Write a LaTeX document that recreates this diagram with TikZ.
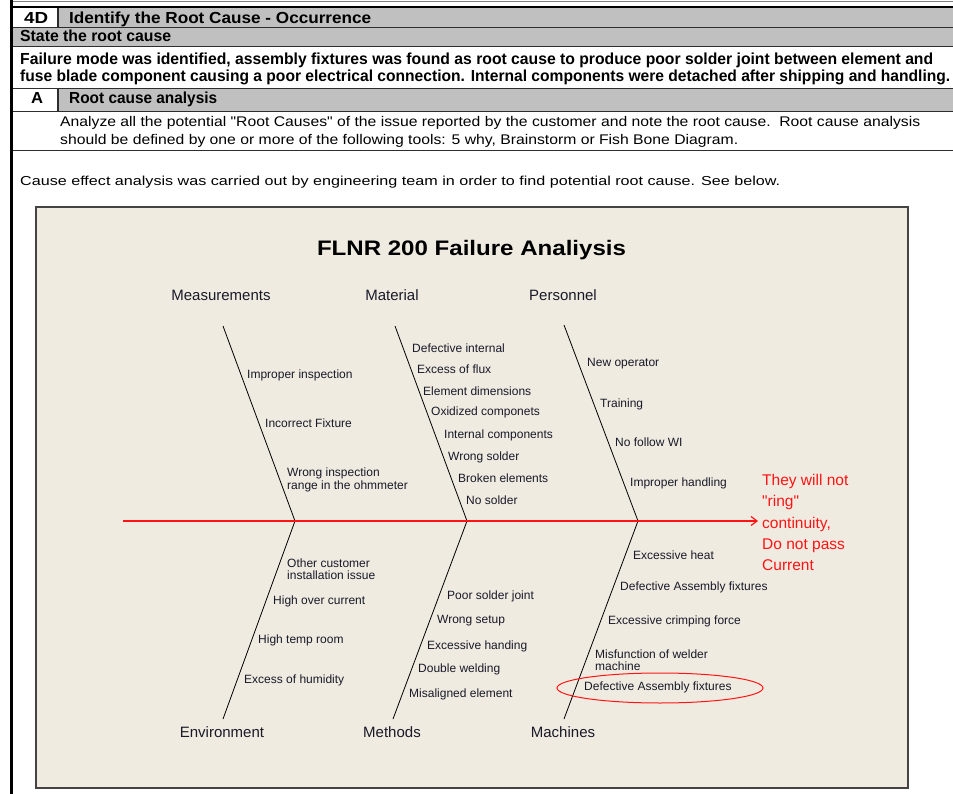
\documentclass[tikz,border=0pt]{standalone}
\usepackage{fontspec}
\usepackage{graphicx}
\setmainfont{Liberation Sans}
\usetikzlibrary{arrows.meta}
\newcommand{\fitto}[2]{\resizebox{#1}{\height}{#2}}
\definecolor{hdrgray}{RGB}{192,192,192}
\definecolor{boxbg}{RGB}{239,235,225}
\definecolor{boxline}{RGB}{68,68,68}
\definecolor{rowline}{RGB}{45,45,45}
\definecolor{labelc}{RGB}{25,25,40}
\definecolor{effred}{RGB}{255,20,20}
\tikzset{
  rowrule/.style={draw=rowline, line width=1.6pt},
  hdrtext/.style={anchor=base west, inner sep=0pt, font=\fontsize{16}{18}\selectfont\bfseries},
  bodytext/.style={anchor=base west, inner sep=0pt, font=\fontsize{14}{16}\selectfont},
  cat/.style={inner sep=0pt, font=\fontsize{15}{17}\selectfont, text=labelc},
  lbl/.style={anchor=west, inner sep=0pt, align=left, font=\fontsize{12}{12.5}\selectfont, text=labelc},
  bone/.style={draw=black, line width=0.8pt},
  spine/.style={draw=effred, line width=1.2pt, -{Straight Barb[length=6pt,width=9pt]}},
}
\begin{document}
\begin{tikzpicture}[x=1pt,y=-1pt]
\useasboundingbox (0,0) rectangle (953,794);
% ---------- header table ----------
\fill[hdrgray] (13,8) rectangle (953,46.5);
\fill[white] (13,8) rectangle (58,27.5);
\fill[hdrgray] (13,88.5) rectangle (953,111.5);
\fill[white] (13,88.5) rectangle (58,111.5);
\draw[draw=gray, line width=0.8pt] (12,1) -- (953,1);
\draw[line width=2.6pt] (12,7) -- (953,7);
\draw[line width=3.6pt] (11.5,0) -- (11.5,794);
\draw[rowrule] (13,27.5) -- (953,27.5);
\draw[rowrule] (13,46.5) -- (953,46.5);
\draw[rowrule] (13,88.5) -- (953,88.5);
\draw[rowrule] (13,111.5) -- (953,111.5);
\draw[rowrule] (13,150.5) -- (953,150.5);
\draw[rowrule] (58,8) -- (58,27.5);
\draw[rowrule] (58,88.5) -- (58,111.5);
\node[hdrtext] (h4d) at (24,23.3) {\fitto{24pt}{4D}};
\node[hdrtext] (hid) at (69,23.3) {\fitto{302pt}{Identify the Root Cause - Occurrence}};
\node[hdrtext] (hst) at (20,41.7) {\fitto{151pt}{State the root cause}};
\node[hdrtext] (hf1) at (20,64.3) {\fitto{913pt}{Failure mode was identified, assembly fixtures was found as root cause to produce poor solder joint between element and}};
\node[hdrtext] (hf2) at (20,82) {\fitto{930pt}{fuse blade component causing a poor electrical connection. Internal components were detached after shipping and handling.}};
\node[hdrtext] (ha) at (31,104) {\fitto{12pt}{A}};
\node[hdrtext] (hra) at (69,104) {\fitto{148pt}{Root cause analysis}};
\node[bodytext] (ta1) at (60,126.5) {\fitto{860pt}{Analyze all the potential \textquotedbl Root Causes\textquotedbl{} of the issue reported by the customer and note the root cause.\ \ Root cause analysis}};
\node[bodytext] (ta2) at (60,144.5) {\fitto{678pt}{should be defined by one or more of the following tools: 5 why, Brainstorm or Fish Bone Diagram.}};
\node[anchor=base west, inner sep=0pt, font=\fontsize{13}{15}\selectfont] (cause) at (20,186) {\fitto{760pt}{Cause effect analysis was carried out by engineering team in order to find potential root cause. See below.}};
% ---------- fishbone box ----------
\draw[fill=boxbg, draw=boxline, line width=1.6pt] (36,207) rectangle (908,788);
\node[anchor=base, inner sep=0pt, font=\fontsize{21}{24}\selectfont\bfseries, text=black] (title) at (471.5,256) {\fitto{309pt}{FLNR 200 Failure Analiysis}};
% categories
\node[cat] (meas) at (221,295) {Measurements};
\node[cat] (mat) at (392,295) {Material};
\node[cat] (pers) at (563,295) {Personnel};
\node[cat] (env) at (222,732) {Environment};
\node[cat] (meth) at (392,732) {Methods};
\node[cat] (mach) at (563,732) {Machines};
% bone coordinates
\coordinate (tail) at (123,521);
\coordinate (head) at (758,521);
\coordinate (j1) at (295,521);
\coordinate (j2) at (467,521);
\coordinate (j3) at (638,521);
\coordinate (t1) at (223,326);
\coordinate (t2) at (395,326);
\coordinate (t3) at (564,325);
\coordinate (b1) at (223,719);
\coordinate (b2) at (393,719);
\coordinate (b3) at (564,719);
\draw[bone] (t1) -- (j1) -- (b1);
\draw[bone] (t2) -- (j2) -- (b2);
\draw[bone] (t3) -- (j3) -- (b3);
\draw[spine] (tail) -- (head);
% effect
\node[anchor=west, inner sep=0pt, align=left, text=effred, font=\fontsize{15.5}{21.25}\selectfont] (eff) at (762,522.5) {They will not\\\textquotedbl ring\textquotedbl\\continuity,\\Do not pass\\Current};
% Measurements causes
\node[lbl] (m1) at (247,375) {Improper inspection};
\node[lbl] (m2) at (265,423) {Incorrect Fixture};
\node[lbl] (m3) at (287,480) {Wrong inspection\\range in the ohmmeter};
% Material causes
\node[lbl] (a1) at (412,348) {Defective internal};
\node[lbl] (a2) at (417,369) {Excess of flux};
\node[lbl] (a3) at (423,391) {Element dimensions};
\node[lbl] (a4) at (431,412) {Oxidized componets};
\node[lbl] (a5) at (444,435) {Internal components};
\node[lbl] (a6) at (448,457) {Wrong solder};
\node[lbl] (a7) at (458,478) {Broken elements};
\node[lbl] (a8) at (466,500) {No solder};
% Personnel causes
\node[lbl] (p1) at (587,364) {New operator};
\node[lbl] (p2) at (600,404) {Training};
\node[lbl] (p3) at (615,442) {No follow WI};
\node[lbl] (p4) at (630,483) {Improper handling};
% Environment causes
\node[lbl] (e1) at (287,569) {Other customer\\installation issue};
\node[lbl] (e2) at (273,601) {High over current};
\node[lbl] (e3) at (258,640) {High temp room};
\node[lbl] (e4) at (244,680) {Excess of humidity};
% Methods causes
\node[lbl] (d1) at (447,596) {Poor solder joint};
\node[lbl] (d2) at (437,621) {Wrong setup};
\node[lbl] (d3) at (427,646) {Excessive handing};
\node[lbl] (d4) at (418,669) {Double welding};
\node[lbl] (d5) at (409,694) {Misaligned element};
% Machines causes
\node[lbl] (c1) at (633,555) {Excessive heat};
\node[lbl] (c2) at (620,587) {Defective Assembly fixtures};
\node[lbl] (c3) at (608,621) {Excessive crimping force};
\node[lbl] (c4) at (595,660) {Misfunction of welder\\machine};
\node[lbl] (c5) at (584,687) {Defective Assembly fixtures};
\draw[draw=effred, line width=1pt] (660,688) ellipse [x radius=103, y radius=15];
\end{tikzpicture}
\end{document}
